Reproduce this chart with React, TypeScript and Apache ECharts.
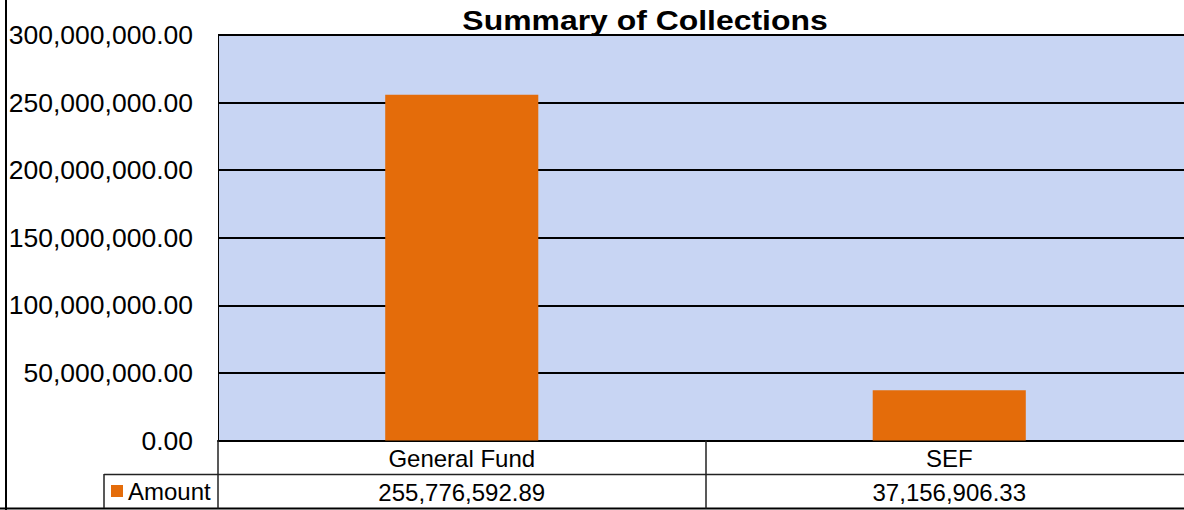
import React, { useEffect, useRef } from "react";
import * as echarts from "echarts";

const chartTitle = "Summary of Collections";
const categories = ["General Fund", "SEF"];
const seriesName = "Amount";
const amounts = [255776592.89, 37156906.33];
const yMin = 0;
const yMax = 300000000;
const yInterval = 50000000;

const FONT = "'Liberation Sans', Arial, Helvetica, sans-serif";

const fmt = (v: number) =>
  v.toLocaleString("en-US", { minimumFractionDigits: 2, maximumFractionDigits: 2 });

export default function App() {
  const ref = useRef<HTMLDivElement>(null);

  useEffect(() => {
    if (!ref.current) return;
    const chart = echarts.init(ref.current, null, { renderer: "svg" });
    const valueLabels = amounts.map(fmt);
    chart.setOption({
      animation: false,
      backgroundColor: "#ffffff",
      textStyle: { fontFamily: FONT },
      grid: {
        left: 218,
        top: 35,
        right: -9,
        bottom: 69.5,
        show: true,
        backgroundColor: "#c8d5f3",
        borderWidth: 0,
        containLabel: false,
        outerBoundsMode: "none",
      },
      legend: {
        data: [seriesName],
        left: 111,
        top: 479,
        padding: 0,
        icon: "rect",
        itemWidth: 12,
        itemHeight: 12,
        selectedMode: false,
        textStyle: { fontSize: 24, color: "#000", fontFamily: FONT },
      },
      xAxis: [
        {
          type: "category",
          data: categories,
          position: "bottom",
          axisLine: { show: true, lineStyle: { color: "#000", width: 2 } },
          axisTick: { show: true, length: 68, lineStyle: { color: "#222", width: 1.5 } },
          axisLabel: { fontSize: 24, color: "#000", margin: 6, fontFamily: FONT },
          splitLine: { show: false },
        },
        {
          type: "category",
          data: valueLabels,
          position: "bottom",
          offset: 34,
          axisLine: { show: false },
          axisTick: { show: false },
          axisLabel: { fontSize: 24, color: "#000", margin: 6, fontFamily: FONT },
          splitLine: { show: false },
        },
      ],
      yAxis: {
        type: "value",
        min: yMin,
        max: yMax,
        interval: yInterval,
        axisLine: { show: true, lineStyle: { color: "#000", width: 1 } },
        axisTick: { show: false },
        splitLine: { show: true, lineStyle: { color: "#000", width: 2 } },
        axisLabel: {
          fontSize: 26.5,
          color: "#000",
          margin: 25,
          fontFamily: FONT,
          formatter: (v: number) => fmt(v),
        },
      },
      series: [
        {
          type: "bar",
          name: seriesName,
          data: amounts,
          barWidth: "31.4%",
          itemStyle: { color: "#E46C0A" },
          xAxisIndex: 0,
        },
      ],
      graphic: [
        {
          type: "text",
          x: 645,
          y: 20,
          scaleX: 1.14,
          z: 100,
          style: {
            text: chartTitle,
            fontSize: 28,
            fontWeight: "bold",
            fontFamily: FONT,
            fill: "#000",
            textAlign: "center",
            textVerticalAlign: "middle",
          },
        },
        {
          type: "line",
          shape: { x1: 6, y1: 0, x2: 6, y2: 510 },
          style: { stroke: "#000", lineWidth: 2 },
        },
        {
          type: "line",
          shape: { x1: 0, y1: 508.5, x2: 1184, y2: 508.5 },
          style: { stroke: "#000", lineWidth: 2 },
        },
        {
          type: "line",
          shape: { x1: 104, y1: 474.5, x2: 1184, y2: 474.5 },
          style: { stroke: "#222", lineWidth: 1.5 },
        },
        {
          type: "line",
          shape: { x1: 104, y1: 474, x2: 104, y2: 508 },
          style: { stroke: "#222", lineWidth: 1.5 },
        },
      ],
    });
    return () => chart.dispose();
  }, []);

  return (
    <div
      ref={ref}
      style={{ position: "absolute", left: 0, top: 0, width: 1184, height: 510 }}
    />
  );
}
